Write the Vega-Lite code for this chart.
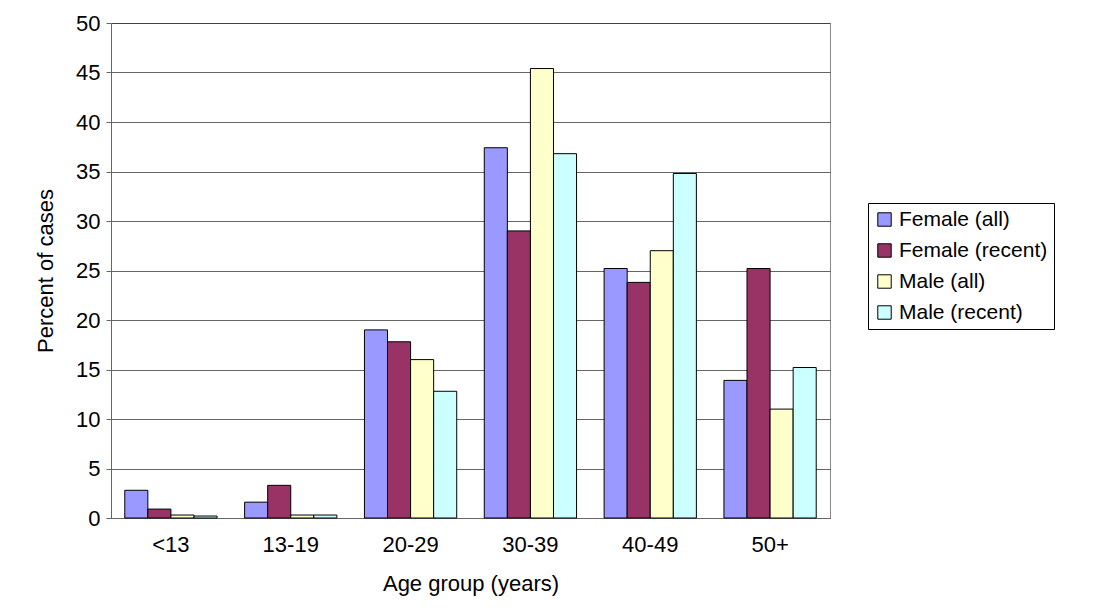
{
  "$schema": "https://vega.github.io/schema/vega-lite/v6.json",
  "width": 719,
  "height": 495,
  "autosize": {"type": "none"},
  "padding": {"left": 111, "top": 23, "right": 280, "bottom": 92},
  "background": "white",
  "data": {
    "values": [
      {"age": "<13", "group": "Female (all)", "pct": 2.8},
      {"age": "<13", "group": "Female (recent)", "pct": 0.9},
      {"age": "<13", "group": "Male (all)", "pct": 0.3},
      {"age": "<13", "group": "Male (recent)", "pct": 0.2},
      {"age": "13-19", "group": "Female (all)", "pct": 1.6},
      {"age": "13-19", "group": "Female (recent)", "pct": 3.3},
      {"age": "13-19", "group": "Male (all)", "pct": 0.3},
      {"age": "13-19", "group": "Male (recent)", "pct": 0.3},
      {"age": "20-29", "group": "Female (all)", "pct": 19.0},
      {"age": "20-29", "group": "Female (recent)", "pct": 17.8},
      {"age": "20-29", "group": "Male (all)", "pct": 16.0},
      {"age": "20-29", "group": "Male (recent)", "pct": 12.8},
      {"age": "30-39", "group": "Female (all)", "pct": 37.4},
      {"age": "30-39", "group": "Female (recent)", "pct": 29.0},
      {"age": "30-39", "group": "Male (all)", "pct": 45.4},
      {"age": "30-39", "group": "Male (recent)", "pct": 36.8},
      {"age": "40-49", "group": "Female (all)", "pct": 25.2},
      {"age": "40-49", "group": "Female (recent)", "pct": 23.8},
      {"age": "40-49", "group": "Male (all)", "pct": 27.0},
      {"age": "40-49", "group": "Male (recent)", "pct": 34.8},
      {"age": "50+", "group": "Female (all)", "pct": 13.9},
      {"age": "50+", "group": "Female (recent)", "pct": 25.2},
      {"age": "50+", "group": "Male (all)", "pct": 11.0},
      {"age": "50+", "group": "Male (recent)", "pct": 15.2}
    ]
  },
  "mark": {"type": "bar", "stroke": "black", "strokeWidth": 1},
  "encoding": {
    "x": {
      "field": "age",
      "type": "nominal",
      "sort": null,
      "title": "Age group (years)",
      "scale": {"paddingInner": 0.23, "paddingOuter": 0.115},
      "axis": {"labelAngle": 0, "ticks": false, "labelPadding": 16, "titlePadding": 18}
    },
    "xOffset": {"field": "group", "type": "nominal"},
    "y": {
      "field": "pct",
      "type": "quantitative",
      "title": "Percent of cases",
      "scale": {"domain": [0, 50]},
      "axis": {"values": [0,5,10,15,20,25,30,35,40,45,50], "labelOverlap": false, "labelPadding": 6, "titlePadding": 18}
    },
    "color": {
      "field": "group",
      "type": "nominal",
      "title": null,
      "scale": {
        "domain": ["Female (all)", "Female (recent)", "Male (all)", "Male (recent)"],
        "range": ["#9999FF", "#993366", "#FFFFCC", "#CCFFFF"]
      },
      "legend": {
        "orient": "none",
        "legendX": 757,
        "legendY": 180,
        "symbolType": "square",
        "symbolSize": 180,
        "symbolStrokeColor": "black",
        "symbolStrokeWidth": 1,
        "labelFontSize": 21,
        "labelFont": "Liberation Sans",
        "rowPadding": 9,
        "padding": 6,
        "strokeColor": "black"
      }
    }
  },
  "config": {
    "view": {"stroke": "#888"},
    "font": "Liberation Sans",
    "axis": {
      "labelFont": "Liberation Sans",
      "titleFont": "Liberation Sans",
      "labelFontSize": 22,
      "titleFontSize": 22,
      "titleFontWeight": "normal",
      "labelColor": "black",
      "titleColor": "black",
      "domainColor": "#666",
      "tickColor": "#666",
      "gridColor": "#222",
      "gridWidth": 0.7
    },
    "axisX": {"grid": false}
  }
}
